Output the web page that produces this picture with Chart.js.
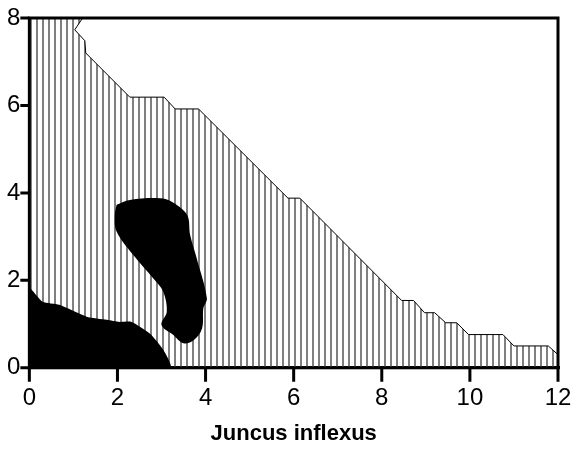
<!DOCTYPE html>
<html lang="en">
<head>
    <meta charset="UTF-8">
    <title>Juncus inflexus</title>
    <script src="https://cdn.jsdelivr.net/npm/chart.js"></script>
    <style>
        body { margin: 0; background: #fff; }
        #wrap { width: 577px; height: 451px; }
    </style>
</head>
<body>
    <div id="wrap"><canvas id="chart"></canvas></div>
    <script>
        // upper edge of the hatched zone
        const hatchX = [0, 1.21, 1.03, 1.26, 1.28, 2.28, 3.06, 3.31, 3.84, 5.87, 6.14, 8.45, 8.72, 8.97, 9.2, 9.45, 9.7, 9.97, 10.75, 11.0, 11.78, 12, 12, 0];
        const hatchY = [8, 8, 7.73, 7.48, 7.2, 6.19, 6.19, 5.92, 5.92, 3.88, 3.88, 1.54, 1.54, 1.26, 1.26, 1.03, 1.03, 0.76, 0.76, 0.5, 0.5, 0.3, 0, 0];

        // black zone in the bottom left corner
        const cornerX = [0, 0, 0.3, 0.68, 1.3, 1.76, 2.05, 2.32, 2.74, 3.04, 3.2, 0];
        const cornerY = [0, 1.81, 1.51, 1.44, 1.17, 1.1, 1.05, 1.05, 0.78, 0.41, 0, 0];

        // black island
        const islandX = [1.98, 2.28, 2.97, 3.23, 3.58, 3.65, 3.80, 4.03, 3.95, 3.92, 3.73, 3.50, 3.27, 3.00, 3.12, 3.04, 2.81, 2.36, 1.98, 1.94, 1.98];
        const islandY = [3.73, 3.84, 3.88, 3.80, 3.50, 3.04, 2.50, 1.59, 1.36, 0.90, 0.63, 0.56, 0.75, 0.98, 1.28, 1.74, 2.05, 2.58, 3.12, 3.50, 3.73];

        const xTicks = [0, 2, 4, 6, 8, 10, 12];
        const yTicks = [0, 2, 4, 6, 8];

        const pts = (xs, ys) => xs.map((x, i) => ({ x: x, y: ys[i] }));

        const ctx = document.getElementById('chart').getContext('2d');

        // vertical hatching
        const pc = document.createElement('canvas');
        pc.width = 6; pc.height = 6;
        const pg = pc.getContext('2d');
        pg.fillStyle = '#808080';
        pg.fillRect(0, 0, 2, 6);
        const hatch = ctx.createPattern(pc, 'repeat');

        // box round the plot and the outward tick marks
        const frame = {
            id: 'frame',
            afterDatasetsDraw(chart) {
                const a = chart.chartArea, c = chart.ctx;
                const sx = chart.scales.x, sy = chart.scales.y;
                c.save();
                c.strokeStyle = '#000';
                c.lineWidth = 3;
                c.beginPath();
                sx.ticks.forEach(t => {
                    const px = sx.getPixelForValue(t.value);
                    c.moveTo(px, a.bottom);
                    c.lineTo(px, a.bottom + 14);
                });
                sy.ticks.forEach(t => {
                    const py = sy.getPixelForValue(t.value);
                    c.moveTo(a.left, py);
                    c.lineTo(a.left - 9, py);
                });
                c.stroke();
                c.strokeRect(a.left, a.top, a.right - a.left, a.bottom - a.top);
                c.restore();
            }
        };

        const font = 'Arial, "Liberation Sans", sans-serif';

        new Chart(ctx, {
            type: 'scatter',
            data: {
                datasets: [{
                    data: pts(islandX, islandY),
                    showLine: true,
                    fill: 'shape',
                    backgroundColor: '#000',
                    borderColor: '#000',
                    borderWidth: 0,
                    tension: 0.35,
                    pointRadius: 0,
                    order: 1
                }, {
                    data: pts(cornerX, cornerY),
                    showLine: true,
                    fill: 'shape',
                    backgroundColor: '#000',
                    borderColor: '#000',
                    borderWidth: 0,
                    tension: 0.2,
                    pointRadius: 0,
                    order: 2
                }, {
                    data: pts(hatchX, hatchY),
                    showLine: true,
                    fill: 'shape',
                    backgroundColor: hatch,
                    borderColor: '#000',
                    borderWidth: 1,
                    tension: 0,
                    pointRadius: 0,
                    order: 3
                }]
            },
            options: {
                responsive: true,
                maintainAspectRatio: false,
                animation: false,
                layout: { padding: { left: 7, right: 19, top: 18, bottom: 2 } },
                plugins: { legend: { display: false }, tooltip: { enabled: false } },
                scales: {
                    x: {
                        type: 'linear',
                        min: 0, max: 12,
                        afterBuildTicks: s => { s.ticks = xTicks.map(v => ({ value: v })); },
                        border: { display: true, color: '#000', width: 3 },
                        grid: { drawOnChartArea: false, drawTicks: true, tickLength: 14, color: '#000', lineWidth: 3, tickColor: 'rgba(0,0,0,0)' },
                        ticks: { color: '#000', padding: 2, font: { family: font, size: 24 } },
                        title: {
                            display: true,
                            text: 'Juncus inflexus',
                            color: '#000',
                            font: { family: font, size: 22, weight: 'bold' },
                            padding: { top: 6, bottom: 2 }
                        }
                    },
                    y: {
                        type: 'linear',
                        min: 0, max: 8,
                        afterBuildTicks: s => { s.ticks = yTicks.map(v => ({ value: v })); },
                        border: { display: true, color: '#000', width: 3 },
                        grid: { drawOnChartArea: false, drawTicks: true, tickLength: 9, color: '#000', lineWidth: 3, tickColor: 'rgba(0,0,0,0)' },
                        ticks: { color: '#000', padding: 0, font: { family: font, size: 24 } }
                    }
                }
            },
            plugins: [frame]
        });
    </script>
</body>
</html>
